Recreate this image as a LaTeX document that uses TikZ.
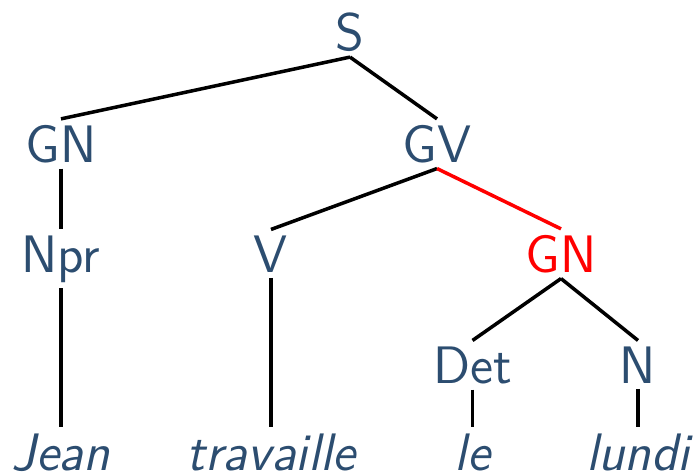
\documentclass[tikz,border=0pt]{standalone}
\usepackage{tikz}
\usetikzlibrary{positioning}
\definecolor{catblue}{RGB}{44,77,112}
\definecolor{hlred}{RGB}{255,0,0}
\tikzset{
  cat/.style={
    anchor=base, inner sep=1.7pt, outer sep=0pt,
    text=catblue, font=\fontsize{15}{18}\selectfont\sffamily
  },
  hlcat/.style={cat, text=hlred},
  lf/.style={cat, font=\fontsize{15}{18}\selectfont\sffamily\itshape},
  br/.style={line width=1pt, black},
  hlbr/.style={br, hlred}
}

\begin{document}
\begin{tikzpicture}
  \useasboundingbox (0,0) rectangle (6.99,4.72);
  % categories
  \node[cat]   (s)   at (3.50,4.22)  {S};
  \node[cat]   (gn)  at (0.61,3.10)  {GN};
  \node[cat]   (gv)  at (4.37,3.10)  {GV};
  \node[cat]   (npr) at (0.61,2.00)  {Npr};
  \node[cat]   (v)   at (2.71,2.00)  {V};
  \node[hlcat] (gn2) at (5.61,2.00)  {GN};
  \node[cat]   (det) at (4.725,0.89) {Det};
  \node[cat]   (n)   at (6.38,0.89)  {N};
  % words
  \node[lf] (jean)  at (0.61,0.02)  {Jean};
  \node[lf] (trav)  at (2.71,0.02)  {travaille};
  \node[lf] (le)    at (4.725,0.02) {le};
  \node[lf] (lundi) at (6.38,0.02)  {lundi};

  \draw[br] (s.south)   -- (gn.north);
  \draw[br] (s.south)   -- (gv.north);
  \draw[br] (gn.south)  -- (npr.north);
  \draw[br] (gv.south)  -- (v.north);
  \draw[hlbr] (gv.south) -- (gn2.north);
  \draw[br] (gn2.south) -- (det.north);
  \draw[br] (gn2.south) -- (n.north);
  \draw[br] (npr.south) -- (jean.north);
  \draw[br] (v.south)   -- (trav.north);
  \draw[br] (det.south) -- (le.north);
  \draw[br] (n.south)   -- (lundi.north);
\end{tikzpicture}
\end{document}
